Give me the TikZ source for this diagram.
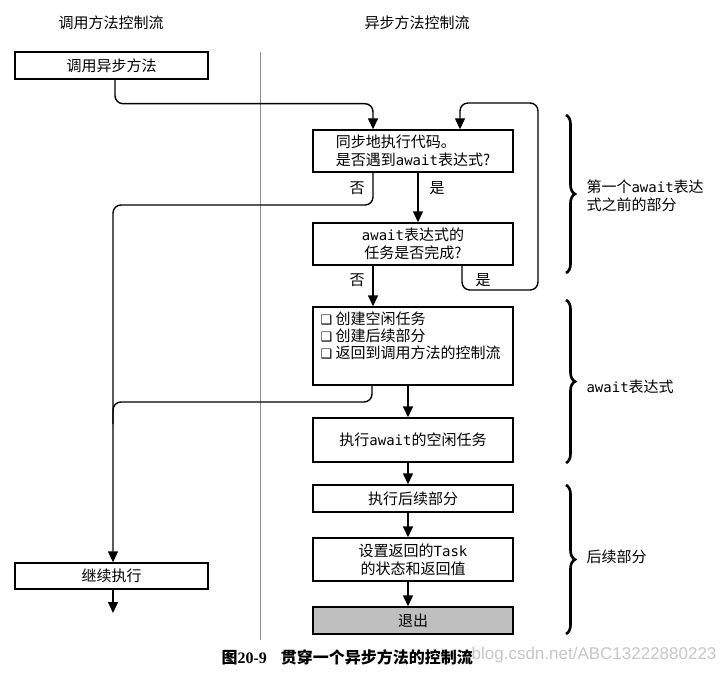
\documentclass[tikz,border=0pt]{standalone}
\usepackage{fontspec}
\setmainfont{Noto Sans CJK SC}
\newfontfamily\monof{DejaVu Sans Mono}
\newfontfamily\dvf{DejaVu Sans}
\newfontfamily\serf{Liberation Serif}
\newfontfamily\wmf{Liberation Sans}
\usetikzlibrary{arrows.meta,decorations.pathreplacing}
\newcommand{\aw}[1]{{\monof\fontsize{14}{18}\selectfont #1}}
\newcommand{\sqb}{{\dvf\fontsize{13}{17}\selectfont ❑}}
\begin{document}
\begin{tikzpicture}[x=1pt,y=-1pt,
  box/.style={draw,line width=1.4pt,minimum width=200pt,inner sep=0pt,font=\fontsize{15}{18}\selectfont},
  arr/.style={line width=1.4pt,-{Triangle[length=11pt,width=10pt]}},
  ln/.style={line width=1.4pt,rounded corners=8pt},
  lbl/.style={font=\fontsize{15}{18}\selectfont},
  brc/.style={decorate,decoration={brace,amplitude=9pt},line width=2.6pt}]
\useasboundingbox (0,0) rectangle (723,674);
\fill[white] (0,0) rectangle (723,674);

% titles
\node[lbl] (t1) at (111,23) {调用方法控制流};
\node[lbl] (t2) at (417,23) {异步方法控制流};

% divider
\coordinate (dv1) at (260,52);
\coordinate (dv2) at (260,640);
\draw[black!45,line width=0.6pt] (dv1) -- (dv2);

% left boxes
\node[box,minimum width=193pt,minimum height=27pt] (call) at (111.5,65.5) {调用异步方法};
\node[box,minimum width=193pt,minimum height=26pt] (cont) at (111.5,576) {继续执行};

% right boxes
\node[box,minimum height=42pt,align=left] (b1) at (413,151) {同步地执行代码。\\是否遇到\aw{await}表达式?};
\node[box,minimum height=42pt,align=center] (b2) at (413,244) {\aw{await}表达式的\\任务是否完成?};
\node[box,minimum height=78pt] (b3) at (413,346) {};
\node[lbl,font=\fontsize{15}{17}\selectfont,align=left,anchor=north west,inner sep=0pt] (b3t)
  at ([xshift=8pt,yshift=-5pt]b3.north west) {\sqb\ 创建空闲任务\\\sqb\ 创建后续部分\\\sqb\ 返回到调用方法的控制流};
\node[box,minimum height=44pt] (b4) at (413,440) {执行\aw{await}的空闲任务};
\node[box,minimum height=27pt] (b5) at (413,498.5) {执行后续部分};
\node[box,minimum height=43pt,align=center] (b6) at (413,559.5) {设置返回的\aw{Task}\\的状态和返回值};
\node[box,minimum height=27pt,fill=black!25] (b7) at (413,620.5) {退出};

% connectors
\draw[ln,arr] ([xshift=3.5pt]call.south) -- ++(0,24) -| ([xshift=-40pt]b1.north);
\draw[arr] ([xshift=5pt]b1.south) -- ([xshift=5pt]b2.north);
\coordinate (lr1) at (538,290);
\coordinate (lr2) at (538,103);
\draw[ln,arr] ([xshift=49pt]b2.south) |- (lr1) -- (lr2) -| ([xshift=47pt]b1.north);
\coordinate (lft1) at (113,205);
\draw[ln,arr] ([xshift=-40pt]b1.south) |- (lft1) -- ([xshift=1.5pt]cont.north);
\draw[arr] ([xshift=-40pt]b2.south) -- ([xshift=-40pt]b3.north);
\coordinate (lft2) at (113,402);
\draw[ln] ([xshift=-41pt]b3.south) |- (lft2) -- ++(0,22);
\draw[arr] ([xshift=-5pt]b3.south) -- ([xshift=-5pt]b4.north);
\draw[arr] ([xshift=-5pt]b4.south) -- ([xshift=-5pt]b5.north);
\draw[arr] ([xshift=-5pt]b5.south) -- ([xshift=-5pt]b6.north);
\draw[arr] ([xshift=-5pt]b6.south) -- ([xshift=-5pt]b7.north);
\coordinate (endc) at (113,613);
\draw[arr] ([xshift=1.5pt]cont.south) -- (endc);

% yes/no labels
\node[lbl] (n1) at (357,188) {否};
\node[lbl] (y1) at (437,188) {是};
\node[lbl] (n2) at (357,280) {否};
\node[lbl] (y2) at (483,280) {是};

% braces
\draw[brc] (566,115) -- (566,273);
\draw[brc] (566,300) -- (566,463);
\draw[brc] (566,485) -- (566,634);
\node[lbl,anchor=west,align=left] (bl1) at (583,196) {第一个\aw{await}表达\\式之前的部分};
\node[lbl,anchor=west] (bl2) at (583,387) {\aw{await}表达式};
\node[lbl,anchor=west] (bl3) at (583,557) {后续部分};

% watermark and caption
\node[anchor=east,text=black!22,font=\wmf\fontsize{17}{18}\selectfont] (wmk) at (720,655) {blog.csdn.net/ABC13222880223};
\node[anchor=west,font=\fontsize{16}{18}\selectfont\bfseries] (cap) at (218,657) {图{\serf\bfseries 20-9}\hspace{14pt}贯穿一个异步方法的控制流};
\end{tikzpicture}
\end{document}
